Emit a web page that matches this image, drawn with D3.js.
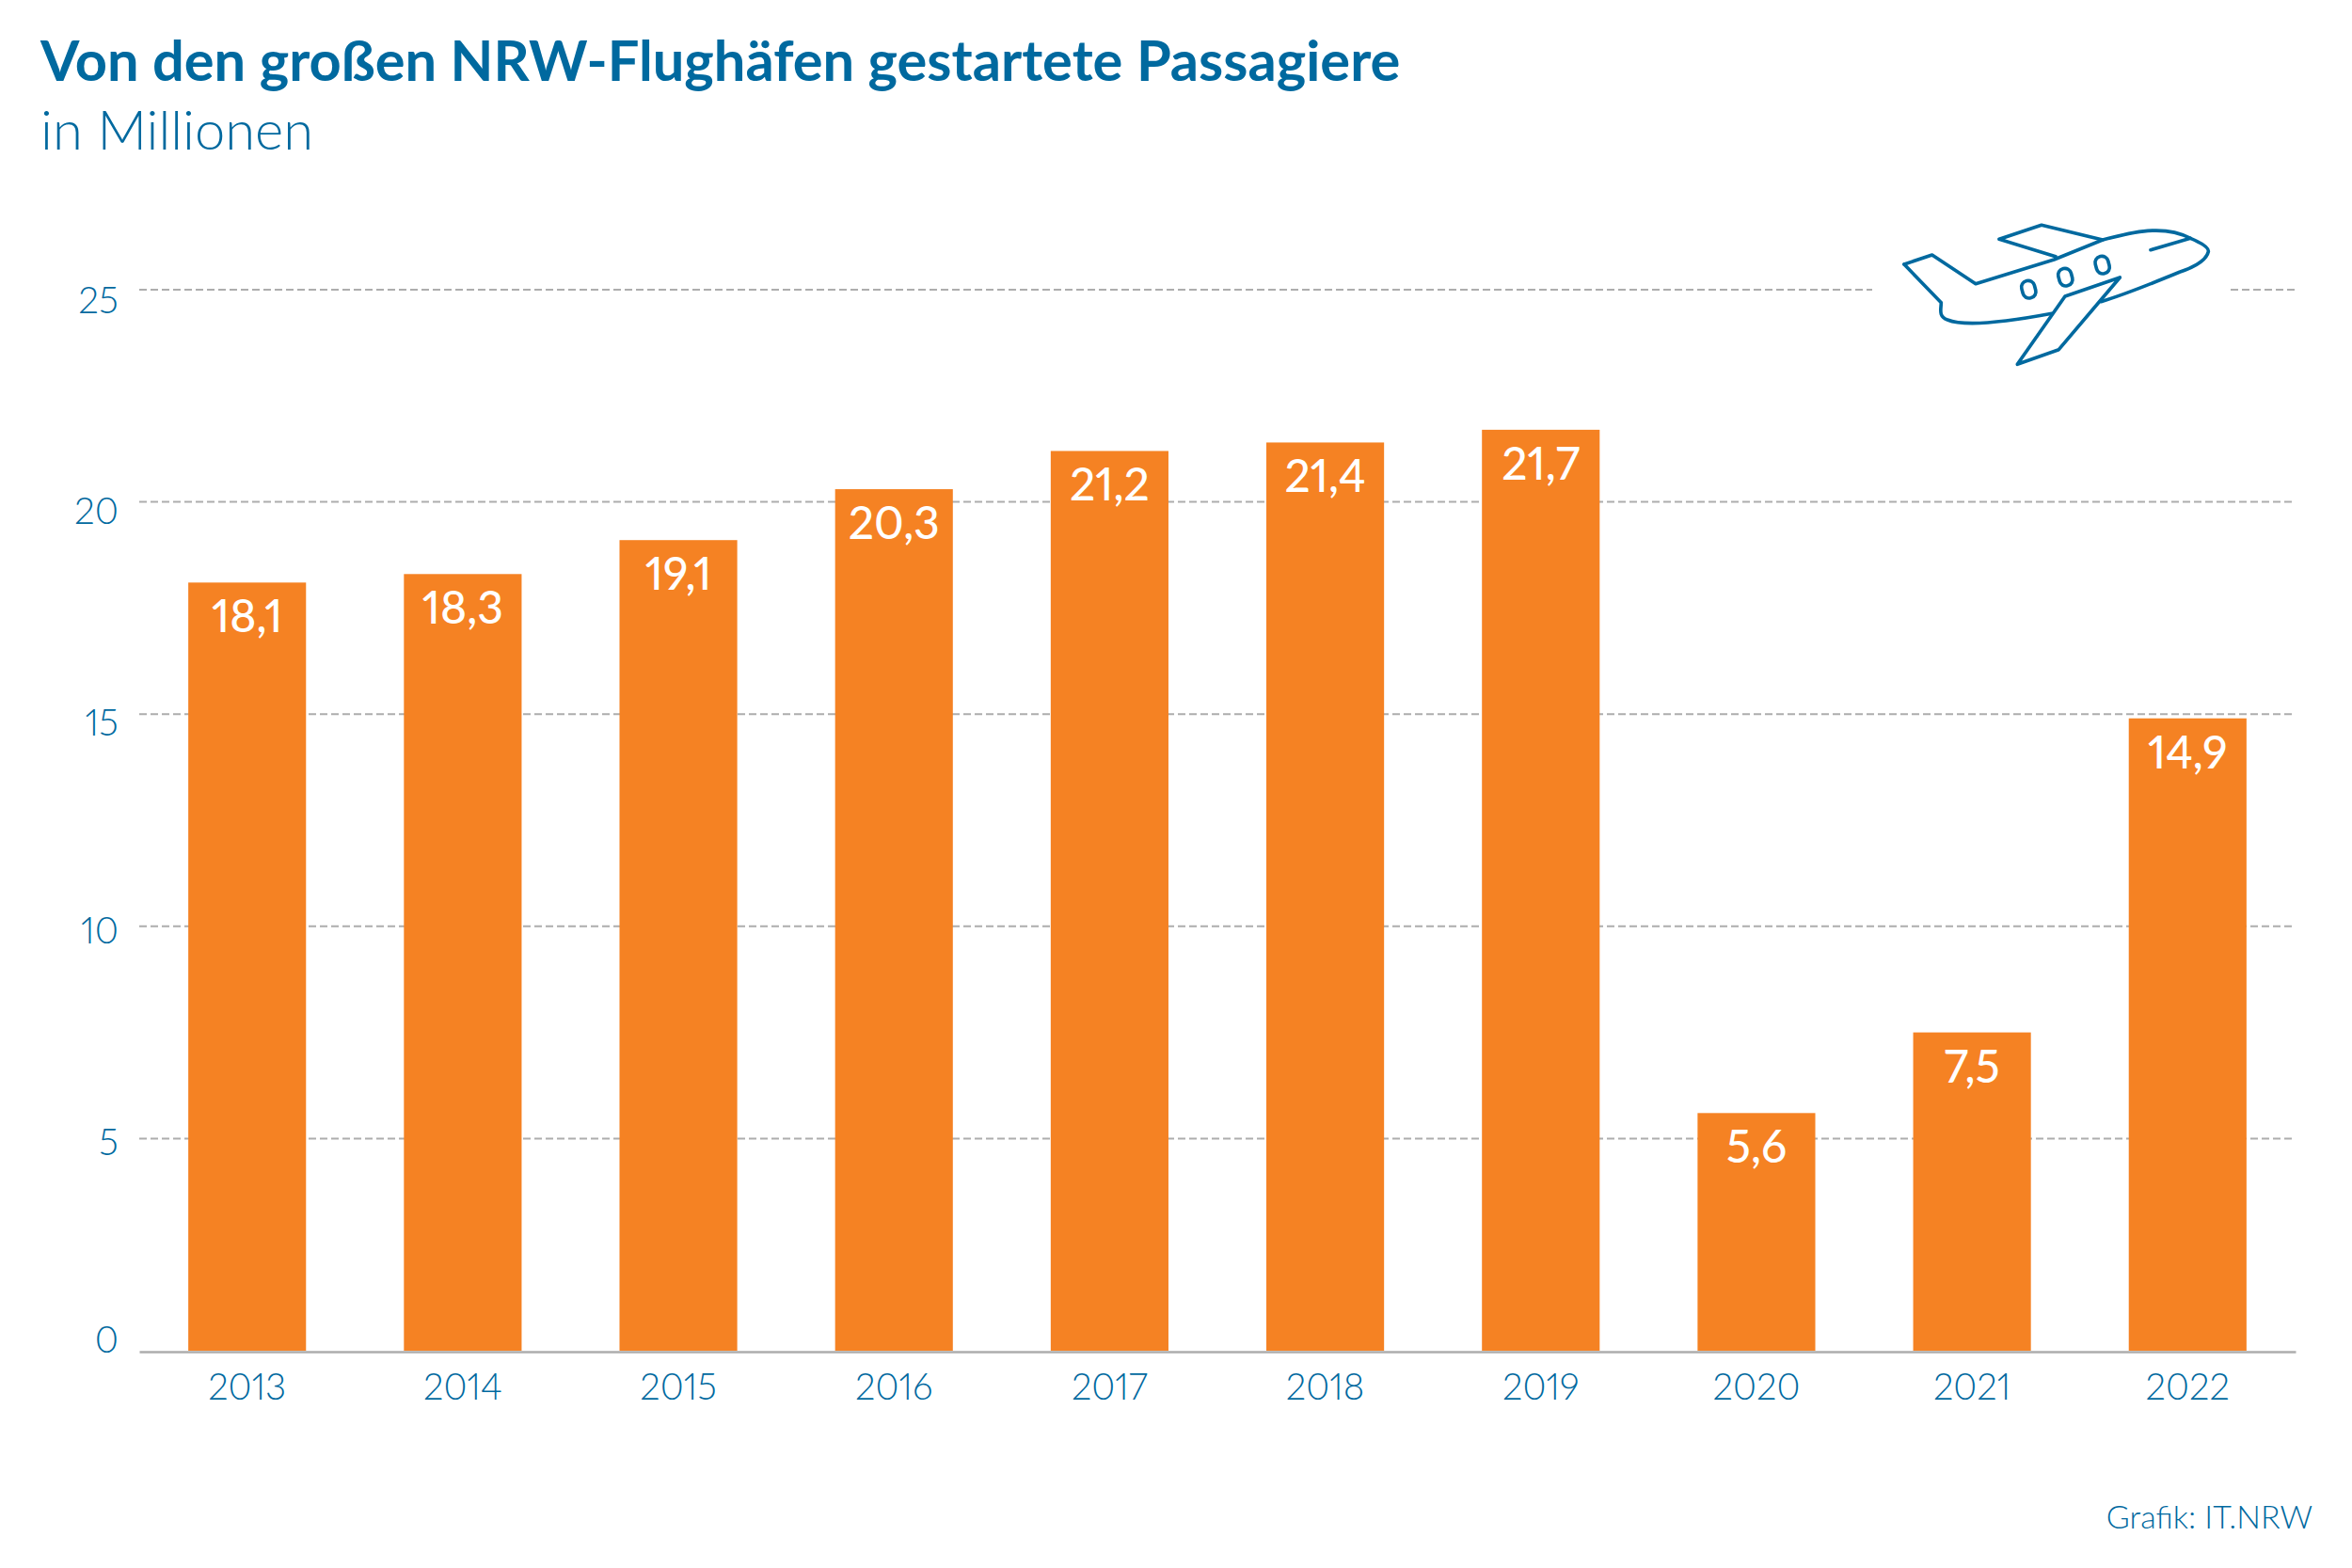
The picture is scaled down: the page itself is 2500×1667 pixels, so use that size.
<!DOCTYPE html>
<html>
<head>
<meta charset="utf-8">
<title>Von den großen NRW-Flughäfen gestartete Passagiere</title>
<script src="https://cdn.jsdelivr.net/npm/d3@7"></script>
<style>
  html, body { margin: 0; padding: 0; background: #fff; }
  text { font-family: Lato, "Noto Sans", sans-serif; fill: #00699f; font-variant-numeric: proportional-nums; }
</style>
</head>
<body>
<svg id="chart" width="2500" height="1667"></svg>
<script>
// Chart values
const years = ["2013", "2014", "2015", "2016", "2017", "2018", "2019", "2020", "2021", "2022"];
const passengers = [18.1, 18.3, 19.1, 20.3, 21.2, 21.4, 21.7, 5.6, 7.5, 14.9];
const yTicks = [0, 5, 10, 15, 20, 25];

const blue = "#00699f";
const orange = "#f58223";
const gray = "#adadad";

const svg = d3.select("#chart");

const plotLeft = 148, plotRight = 2440, plotBottom = 1436, plotTop = 308;

const x = d3.scaleBand().domain(years).range([plotLeft, plotRight]).paddingInner(0.454).paddingOuter(0.2275);
const y = d3.scaleLinear().domain([0, 25]).range([plotBottom, plotTop]);

const comma = d => String(d).replace(".", ",");

// Title
svg.append("text").attr("x", 43).attr("y", 86)
    .attr("font-size", 59.6).attr("font-weight", 700)
    .text("Von den großen NRW-Flughäfen gestartete Passagiere");
svg.append("text").attr("x", 43).attr("y", 159)
    .attr("font-size", 57.9).attr("font-weight", 300)
    .text("in Millionen");

// Dashed grid lines, the top one leaves room for the plane
const grid = svg.append("g").attr("stroke", gray).attr("stroke-width", 2).attr("stroke-dasharray", "8 4");
yTicks.filter(d => d > 0 && d < 25).forEach(function (d) {
    grid.append("line").attr("x1", plotLeft).attr("x2", plotRight).attr("y1", y(d)).attr("y2", y(d));
});
grid.append("line").attr("x1", plotLeft).attr("x2", 1990).attr("y1", y(25)).attr("y2", y(25));
grid.append("line").attr("x1", 2371).attr("x2", plotRight).attr("y1", y(25)).attr("y2", y(25));

// Bars
svg.selectAll(".bar").data(years).enter().append("rect")
    .attr("class", "bar")
    .attr("x", d => x(d))
    .attr("y", (d, i) => y(passengers[i]))
    .attr("width", x.bandwidth())
    .attr("height", (d, i) => plotBottom - y(passengers[i]))
    .attr("fill", orange);

// Value labels
svg.selectAll(".value").data(years).enter().append("text")
    .attr("class", "value")
    .attr("x", d => x(d) + x.bandwidth() / 2)
    .attr("y", (d, i) => y(passengers[i]) + 53)
    .attr("text-anchor", "middle")
    .attr("font-size", 48).attr("font-weight", 500)
    .style("fill", "#fff")
    .text((d, i) => comma(passengers[i]));

// Axes
const xAxis = svg.append("g").attr("transform", "translate(0," + (plotBottom + 1) + ")")
    .call(d3.axisBottom(x).tickSize(0));
xAxis.select(".domain").attr("stroke", gray).attr("stroke-width", 2.5);
xAxis.selectAll("text").attr("y", 51).attr("dy", 0).attr("font-size", 38.5).attr("font-weight", 300)
    .attr("font-family", null);

// the tick labels sit a little unevenly below their grid lines in the original
const tickShift = { 0: 1, 5: 17, 10: 18, 15: 22, 20: 23, 25: 24 };
const yAxis = svg.append("g").attr("transform", "translate(126,0)")
    .call(d3.axisLeft(y).tickValues(yTicks).tickSize(0).tickPadding(0));
yAxis.select(".domain").remove();
yAxis.selectAll("text").attr("dy", 0).attr("y", d => tickShift[d]).attr("font-size", 39).attr("font-weight", 300)
    .attr("font-family", null);

// Source
svg.append("text").attr("x", 2458).attr("y", 1625).attr("text-anchor", "end")
    .attr("font-size", 34).attr("font-weight", 300)
    .text("Grafik: IT.NRW");

// Plane icon
const plane = svg.append("g").attr("transform", "translate(1950,200) scale(0.3333)")
    .attr("fill", "none").attr("stroke", blue).attr("stroke-width", 11)
    .attr("stroke-linejoin", "round").attr("stroke-linecap", "round");
[
    "M222 243 L311 213 L450 305 L700 228 L855 165 C950 140 1050 115 1135 160 C1170 175 1195 190 1192 203 C1185 235 1130 258 1100 268 C1020 300 940 335 850 362",
    "M222 243 L340 365 C340 385 330 410 360 420 C420 445 560 425 693 400",
    "M855 165 L660 118 L525 163 L705 218",
    "M1008 197 L1135 160",
    "M583 562 L735 345 L910 285 L715 515 Z"
].forEach(function (p) { plane.append("path").attr("d", p); });
[[619, 323], [736, 284], [854, 245]].forEach(function (w) {
    plane.append("rect").attr("x", -21).attr("y", -28).attr("width", 42).attr("height", 56).attr("rx", 20)
        .attr("transform", "translate(" + w[0] + "," + w[1] + ") rotate(-15)");
});
</script>
</body>
</html>
